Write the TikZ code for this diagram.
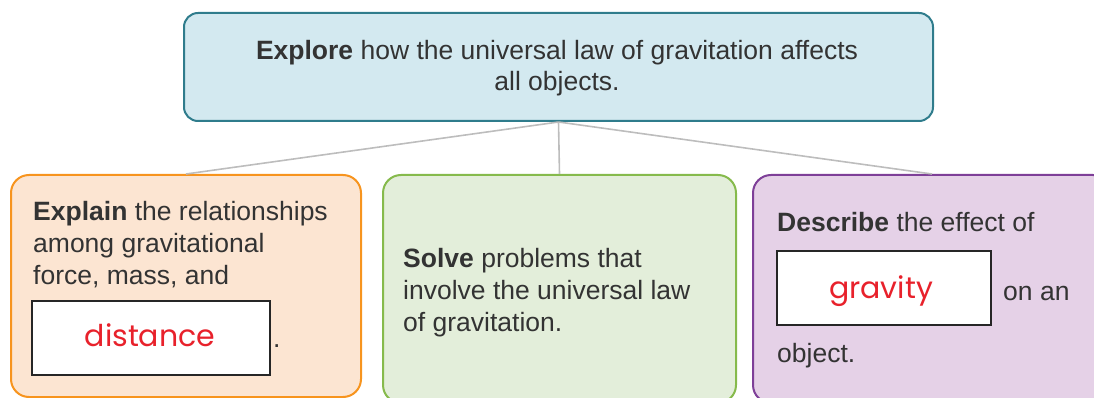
\documentclass[tikz,border=0pt]{standalone}
\usepackage{fontspec}
\setmainfont{Liberation Sans}
\newfontfamily\hand{Poppins}
\definecolor{txt}{HTML}{333333}
\definecolor{topfill}{HTML}{D3E9F0}
\definecolor{topline}{HTML}{2F7C8C}
\definecolor{orfill}{HTML}{FCE5D2}
\definecolor{orline}{HTML}{F7941E}
\definecolor{grfill}{HTML}{E3EEDA}
\definecolor{grline}{HTML}{86BA4C}
\definecolor{pufill}{HTML}{E5D1E7}
\definecolor{puline}{HTML}{7E3F98}
\definecolor{conn}{HTML}{BDBDBD}
\definecolor{ans}{HTML}{E8212B}
\tikzset{
  card/.style={draw, line width=2pt, rounded corners=18pt, anchor=north west, inner sep=0pt},
  blank/.style={draw=black!85, line width=2pt, fill=white, anchor=north west, inner sep=0pt},
  line/.style={text=txt, font=\fontsize{26.5}{30}\selectfont, anchor=base west, inner sep=0pt},
  answer/.style={text=ans, font=\hand\fontsize{30}{34}\selectfont, inner sep=0pt},
  link/.style={draw=conn, line width=1.6pt}
}
\begin{document}
\begin{tikzpicture}[x=1pt,y=-1pt]
\useasboundingbox (0,0) rectangle (1094,398);
\clip (0,0) rectangle (1094,398);
% cards
\node[card, fill=topfill, draw=topline, minimum width=749pt, minimum height=108pt, rounded corners=14pt] (top) at (183,12) {};
\node[card, fill=orfill, draw=orline, minimum width=350pt, minimum height=222pt] (left) at (10,174) {};
\node[card, fill=grfill, draw=grline, minimum width=353pt, minimum height=228pt] (mid) at (382,174) {};
\node[card, fill=pufill, draw=puline, minimum width=358pt, minimum height=228pt] (right) at (752,174) {};
% connectors
\draw[link] (top.south) -- (left.north);
\draw[link] (top.south) -- (mid.north);
\draw[link] (top.south) -- (right.north);
% top text
\node[line, anchor=base] (t1) at (557,60) {\textbf{Explore} how the universal law of gravitation affects};
\node[line, anchor=base] (t2) at (557,91) {all objects.};
% left text
\node[line] (l1) at (33,220) {\textbf{Explain} the relationships};
\node[line] (l2) at (33,252) {among gravitational};
\node[line] (l3) at (33,284) {force, mass, and};
\node[blank, minimum width=238pt, minimum height=74pt] (lb) at (31,300) {};
\node[answer, anchor=base] (la) at (150,346) {distance};
\node[line] (ldot) at (273,347) {.};
% middle text
\node[line] (m1) at (403,267) {\textbf{Solve} problems that};
\node[line] (m2) at (403,299) {involve the universal law};
\node[line] (m3) at (403,331) {of gravitation.};
% right text
\node[line] (r1) at (777,231) {\textbf{Describe} the effect of};
\node[blank, minimum width=214pt, minimum height=74pt] (rb) at (776,250) {};
\node[answer, anchor=base] (ra) at (881,298) {gravity};
\node[line] (r2) at (1003,300) {on an};
\node[line] (r3) at (777,362) {object.};
\end{tikzpicture}
\end{document}
